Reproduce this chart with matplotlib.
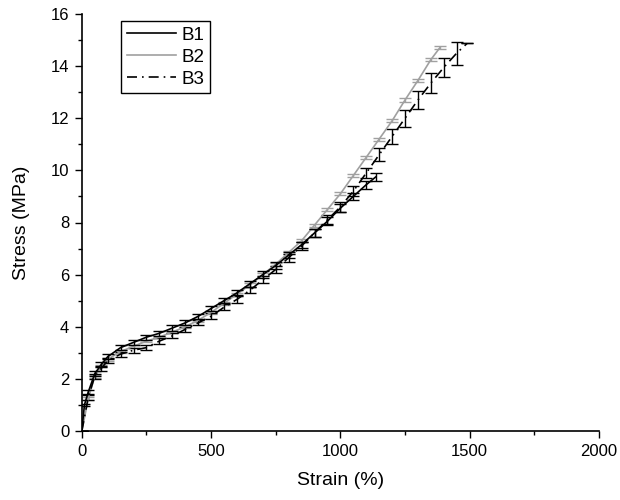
import numpy as np
import matplotlib.pyplot as plt
from matplotlib.ticker import MultipleLocator

plt.rcParams['font.family'] = ['Liberation Sans', 'DejaVu Sans']

# B1 (solid black)
strain_b1 = [0, 10, 25, 50, 75, 100, 150, 200, 250, 300, 350, 400, 450, 500, 550,
             600, 650, 700, 750, 800, 850, 900, 950, 1000, 1050, 1100, 1137]
stress_b1 = [0, 1.0, 1.5, 2.2, 2.55, 2.85, 3.2, 3.4, 3.6, 3.75, 3.95, 4.15, 4.4, 4.7, 5.0,
             5.3, 5.65, 6.0, 6.35, 6.75, 7.15, 7.6, 8.05, 8.55, 9.0, 9.45, 9.75]
err_b1 = [0, 0.05, 0.08, 0.1, 0.1, 0.1, 0.1, 0.1, 0.1, 0.1, 0.1, 0.1, 0.1, 0.1, 0.1,
          0.1, 0.12, 0.12, 0.12, 0.12, 0.12, 0.15, 0.15, 0.15, 0.15, 0.15, 0.15]

# B2 (grey)
strain_b2 = [0, 25, 50, 75, 100, 150, 200, 250, 300, 350, 400, 450, 500, 550, 600,
             650, 700, 750, 800, 850, 900, 950, 1000, 1050, 1100, 1150, 1200, 1250,
             1300, 1350, 1385]
stress_b2 = [0, 1.25, 2.1, 2.5, 2.75, 3.05, 3.25, 3.45, 3.6, 3.8, 4.0, 4.25, 4.55, 4.9, 5.25,
             5.6, 6.0, 6.4, 6.85, 7.3, 7.9, 8.5, 9.1, 9.8, 10.5, 11.2, 11.9, 12.7,
             13.45, 14.25, 14.71]
err_b2 = [0, 0.05, 0.05, 0.05, 0.05, 0.05, 0.05, 0.05, 0.05, 0.05, 0.05, 0.05, 0.06, 0.06, 0.06,
          0.06, 0.06, 0.06, 0.06, 0.06, 0.06, 0.06, 0.06, 0.06, 0.06, 0.06, 0.06, 0.06,
          0.06, 0.06, 0.06]

# B3 (dash-dot)
strain_b3 = [0, 25, 50, 75, 100, 150, 200, 250, 300, 350, 400, 450, 500, 550, 600,
             650, 700, 750, 800, 850, 900, 950, 1000, 1050, 1100, 1150, 1200, 1250,
             1300, 1350, 1400, 1450, 1490]
stress_b3 = [0, 1.3, 2.1, 2.4, 2.7, 2.95, 3.1, 3.2, 3.45, 3.65, 3.9, 4.15, 4.4, 4.75, 5.05,
             5.4, 5.8, 6.2, 6.65, 7.1, 7.6, 8.1, 8.6, 9.2, 9.9, 10.6, 11.3, 12.0,
             12.7, 13.35, 13.95, 14.5, 14.87]
err_b3 = [0, 0.1, 0.1, 0.1, 0.1, 0.1, 0.1, 0.1, 0.1, 0.1, 0.1, 0.1, 0.12, 0.12, 0.12,
          0.12, 0.14, 0.14, 0.15, 0.15, 0.16, 0.17, 0.18, 0.19, 0.21, 0.24, 0.27, 0.32,
          0.34, 0.37, 0.38, 0.44, 0]

fig = plt.figure(figsize=(6.2, 5), dpi=100)
ax = fig.add_axes([0.132, 0.138, 0.834, 0.834])

grey = '#a0a0a0'
ax.errorbar(strain_b1, stress_b1, yerr=err_b1, color='black', lw=1.2,
            capsize=4, elinewidth=1, capthick=1, label='B1', zorder=3)
ax.errorbar(strain_b2, stress_b2, yerr=err_b2, color=grey, lw=1.2,
            capsize=4, elinewidth=1, capthick=1, label='B2', zorder=2)
ax.errorbar(strain_b3, stress_b3, yerr=err_b3, color='black', lw=1.2,
            ls=(0, (6, 3, 1, 3)), capsize=4, elinewidth=1, capthick=1,
            label='B3', zorder=2)

ax.set_xlim(0, 2000)
ax.set_ylim(0, 16)
ax.xaxis.set_major_locator(MultipleLocator(500))
ax.xaxis.set_minor_locator(MultipleLocator(250))
ax.yaxis.set_major_locator(MultipleLocator(2))
ax.yaxis.set_minor_locator(MultipleLocator(1))
ax.tick_params(which='major', direction='out', length=5, width=1, labelsize=12, pad=4)
ax.tick_params(which='minor', direction='out', length=3, width=1)

ax.spines['top'].set_visible(False)
ax.spines['right'].set_visible(False)
ax.spines['left'].set_linewidth(1.2)
ax.spines['bottom'].set_linewidth(1.2)

ax.set_xlabel('Strain (%)', fontsize=14, labelpad=10)
ax.set_ylabel('Stress (MPa)', fontsize=14, labelpad=15)

handles, labels = ax.get_legend_handles_labels()
handles = [h[0] for h in handles]
leg = ax.legend(handles, labels, loc='upper left', bbox_to_anchor=(0.058, 1.005),
                fontsize=13.5, handlelength=2.6, handletextpad=0.3,
                labelspacing=0.25, borderpad=0.3, fancybox=False,
                edgecolor='black', framealpha=1)
leg.get_frame().set_linewidth(1)

plt.savefig('out.png', dpi=100)
